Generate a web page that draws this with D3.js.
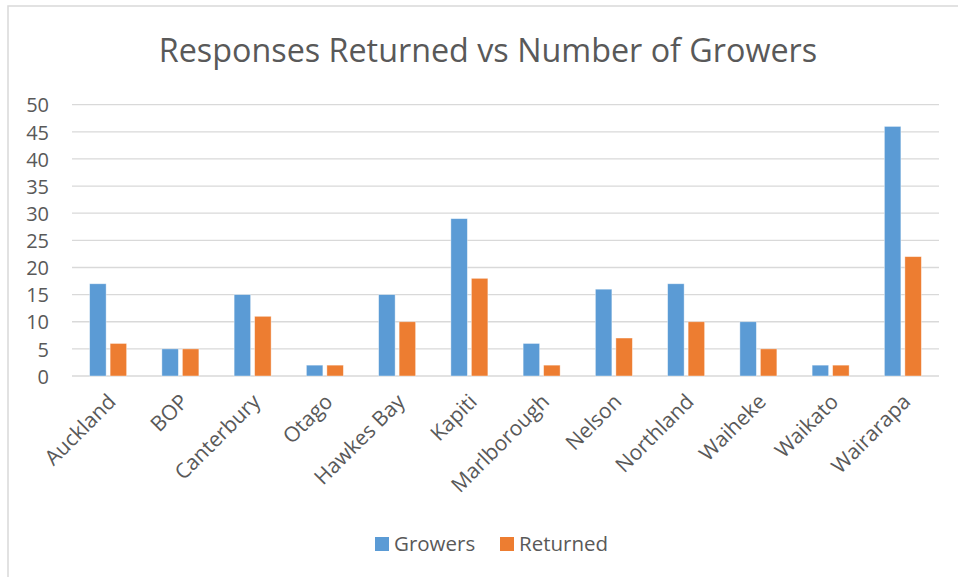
<!DOCTYPE html>
<html>
<head>
<meta charset="utf-8">
<script src="https://cdn.jsdelivr.net/npm/d3@7"></script>
<style>
    body { margin: 0; background: #fff; }
    svg text { font-family: "Open Sans", "Noto Sans", sans-serif; fill: #595959; }
</style>
</head>
<body>
<div id="chart"></div>
<script>
const regions = ["Auckland", "BOP", "Canterbury", "Otago", "Hawkes Bay", "Kapiti",
    "Marlborough", "Nelson", "Northland", "Waiheke", "Waikato", "Wairarapa"];
const growers = [17, 5, 15, 2, 15, 29, 6, 16, 17, 10, 2, 46];
const returned = [6, 5, 11, 2, 10, 18, 2, 7, 10, 5, 2, 22];
const yTicks = [0, 5, 10, 15, 20, 25, 30, 35, 40, 45, 50];
const seriesNames = ["Growers", "Returned"];
const colors = ["#5B9BD5", "#ED7D31"];

const width = 958, height = 577;
const margin = { top: 104.7, right: 19, bottom: 201, left: 72 };

const svg = d3.select("#chart").append("svg")
    .attr("width", width)
    .attr("height", height);

// chart border
svg.append("rect")
    .attr("x", 8).attr("y", 6)
    .attr("width", 970).attr("height", 600)
    .attr("fill", "none")
    .attr("stroke", "#d9d9d9")
    .attr("stroke-width", 1.5);

svg.append("text")
    .attr("x", 488)
    .attr("y", 62)
    .attr("text-anchor", "middle")
    .style("font-size", "32.3px")
    .text("Responses Returned vs Number of Growers");

const x = d3.scaleBand()
    .domain(regions)
    .range([margin.left, width - margin.right]);

const y = d3.scaleLinear()
    .domain([0, 50])
    .range([height - margin.bottom, margin.top]);

// gridlines
svg.append("g")
    .selectAll("line")
    .data(yTicks)
    .enter().append("line")
    .attr("x1", margin.left)
    .attr("x2", width - margin.right)
    .attr("y1", d => y(d))
    .attr("y2", d => y(d))
    .attr("stroke", "#d9d9d9")
    .attr("stroke-width", 1.3);

const yAxis = svg.append("g")
    .attr("transform", `translate(${margin.left - 23},0)`)
    .call(d3.axisLeft(y).tickValues(yTicks).tickSize(0).tickPadding(0));
yAxis.select(".domain").remove();
yAxis.selectAll("text")
    .attr("dy", "0.36em")
    .style("font-size", "20px")
    .attr("fill", "#595959");

// bars
const barW = 16.5, gap = 4;
const data = regions.map((r, i) => ({ region: r, values: [growers[i], returned[i]] }));

const groups = svg.append("g")
    .selectAll("g")
    .data(data)
    .enter().append("g")
    .attr("transform", d => `translate(${x(d.region) + x.bandwidth() / 2},0)`);

groups.selectAll("rect")
    .data(d => d.values.map((v, k) => ({ v, k })))
    .enter().append("rect")
    .attr("x", d => d.k === 0 ? -barW - gap / 2 : gap / 2)
    .attr("width", barW)
    .attr("y", d => y(d.v))
    .attr("height", d => y(0) - y(d.v))
    .attr("fill", d => colors[d.k])
    .attr("stroke", "#fff")
    .attr("stroke-opacity", 0.5)
    .attr("stroke-width", 0.8);

// x labels
const xAxis = svg.append("g")
    .attr("transform", `translate(0,${y(0)})`)
    .call(d3.axisBottom(x).tickSize(0).tickPadding(0));
xAxis.select(".domain").remove();
xAxis.selectAll("text")
    .style("font-size", "21px")
    .attr("text-anchor", "end")
    .attr("dy", null)
    .attr("y", 0)
    .attr("transform", "translate(9,27) rotate(-45)");

// legend
const legendItems = [{ x: 375, name: seriesNames[0], c: colors[0] },
                     { x: 500, name: seriesNames[1], c: colors[1] }];
const legend = svg.append("g");
legend.selectAll("rect")
    .data(legendItems)
    .enter().append("rect")
    .attr("x", d => d.x).attr("y", 537)
    .attr("width", 14).attr("height", 14)
    .attr("fill", d => d.c);
legend.selectAll("text")
    .data(legendItems)
    .enter().append("text")
    .attr("x", d => d.x + 19)
    .attr("y", 551)
    .style("font-size", "20.5px")
    .text(d => d.name);
</script>
</body>
</html>
